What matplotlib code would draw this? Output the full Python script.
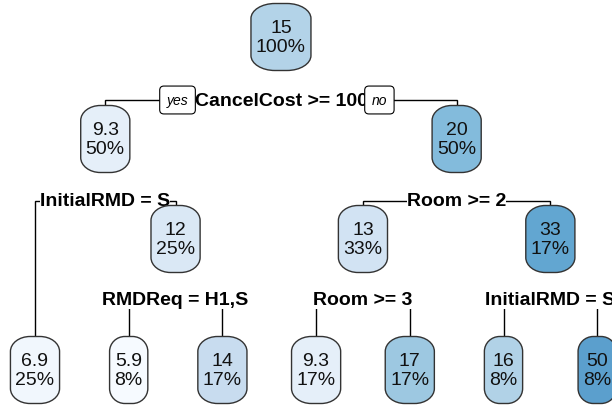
import matplotlib
matplotlib.use("Agg")
import matplotlib.pyplot as plt
from matplotlib.patches import PathPatch
from matplotlib.path import Path
import numpy as np

plt.rcParams['font.family'] = ['Liberation Sans', 'DejaVu Sans']

# rpart-style node numbering: children of n are 2n and 2n+1
node_ids = [1, 2, 3, 4, 5, 6, 7, 10, 11, 12, 13, 14, 15]
node_vals = [15, 9.3, 20, 6.9, 12, 13, 33, 5.9, 14, 9.3, 17, 16, 50]
node_pcts = [100, 50, 50, 25, 25, 33, 17, 8, 17, 17, 17, 8, 8]
split_ids = [1, 2, 3, 5, 6, 7]
split_text = ["CancelCost >= 100", "InitialRMD = S", "Room >= 2",
              "RMDReq = H1,S", "Room >= 3", "InitialRMD = S"]
node_cols = ["#b3d3e8", "#e5eff9", "#83bbdc", "#f1f7fd", "#dae8f5", "#d2e3f3",
             "#62a6d1", "#f6faff", "#c8dcef", "#e5eff9", "#9dc8e1", "#b1d2e7",
             "#5b9fcd"]

W, H = 612, 406
fig = plt.figure(figsize=(W / 100, H / 100), dpi=100)
ax = fig.add_axes([0, 0, 1, 1])
ax.set_xlim(0, W)
ax.set_ylim(H, 0)
ax.axis('off')

ids = set(node_ids)
val = dict(zip(node_ids, node_vals))
pct = dict(zip(node_ids, node_pcts))
col = dict(zip(node_ids, node_cols))
split = dict(zip(split_ids, split_text))

# leaves in left-to-right order, evenly spaced; parents sit over children
def leaves(n):
    if 2 * n in ids:
        return leaves(2 * n) + leaves(2 * n + 1)
    return [n]

leaf_order = leaves(1)
leaf_x0, leaf_dx = 35, 93.7
xpos = {n: leaf_x0 + i * leaf_dx for i, n in enumerate(leaf_order)}

def place(n):
    if n in xpos:
        return xpos[n]
    xpos[n] = (place(2 * n) + place(2 * n + 1)) / 2
    return xpos[n]

place(1)

row_y = [38, 140, 240]
leaf_y = 371
label_y = [101, 202, 301]
box_h = 67

def depth(n):
    return int(np.floor(np.log2(n)))

ypos = {n: (leaf_y if n in leaf_order else row_y[depth(n)]) for n in node_ids}


def capsule(cx, cy, w, h, rx, ry):
    # rectangle with elliptical corners (y axis points down)
    k = 0.5523
    x0, x1 = cx - w / 2, cx + w / 2
    y0, y1 = cy - h / 2, cy + h / 2
    verts = [
        (x0 + rx, y0), (x1 - rx, y0),
        (x1 - rx + k * rx, y0), (x1, y0 + ry - k * ry), (x1, y0 + ry),
        (x1, y1 - ry),
        (x1, y1 - ry + k * ry), (x1 - rx + k * rx, y1), (x1 - rx, y1),
        (x0 + rx, y1),
        (x0 + rx - k * rx, y1), (x0, y1 - ry + k * ry), (x0, y1 - ry),
        (x0, y0 + ry),
        (x0, y0 + ry - k * ry), (x0 + rx - k * rx, y0), (x0 + rx, y0),
        (x0 + rx, y0),
    ]
    codes = [Path.MOVETO, Path.LINETO,
             Path.CURVE4, Path.CURVE4, Path.CURVE4,
             Path.LINETO,
             Path.CURVE4, Path.CURVE4, Path.CURVE4,
             Path.LINETO,
             Path.CURVE4, Path.CURVE4, Path.CURVE4,
             Path.LINETO,
             Path.CURVE4, Path.CURVE4, Path.CURVE4,
             Path.CLOSEPOLY]
    return Path(verts, codes)


renderer = fig.canvas.get_renderer()

# node boxes
for n in node_ids:
    t = ax.text(xpos[n], ypos[n], f"{val[n]:.2g}\n{pct[n]}%", ha='center',
                va='center', fontsize=14, linespacing=1.15, color='#111111',
                zorder=5)
    bb = t.get_window_extent(renderer)
    w = bb.width + 10
    ax.add_patch(PathPatch(capsule(xpos[n], ypos[n], w, box_h, 0.4 * w, 15),
                           fc=col[n], ec='#333333', lw=1.0, zorder=4))

# split labels and branches
for n in split_ids:
    d = depth(n)
    ly = label_y[d]
    lx, rx = xpos[2 * n], xpos[2 * n + 1]
    ltop = ypos[2 * n] - box_h / 2
    rtop = ypos[2 * n + 1] - box_h / 2
    ax.plot([lx, lx, rx, rx], [ltop, ly, ly, rtop], color='black', lw=1.0,
            zorder=1, solid_joinstyle='miter')
    t = ax.text(xpos[n], ly, split[n], ha='center', va='center', fontsize=14,
                fontweight='bold', color='black', zorder=3,
                bbox=dict(fc='white', ec='none', pad=0))
    if n == 1:
        bb = t.get_window_extent(renderer)
        ax.text(bb.x0 - 17, ly, "yes", ha='center', va='center', fontsize=10,
                style='italic', zorder=6,
                bbox=dict(boxstyle="round,pad=0.5,rounding_size=0.3",
                          fc='white', ec='black', lw=0.8))
        ax.text(bb.x1 + 12, ly, "no", ha='center', va='center', fontsize=10,
                style='italic', zorder=6,
                bbox=dict(boxstyle="round,pad=0.5,rounding_size=0.3",
                          fc='white', ec='black', lw=0.8))

fig.savefig("out.png", dpi=100)
